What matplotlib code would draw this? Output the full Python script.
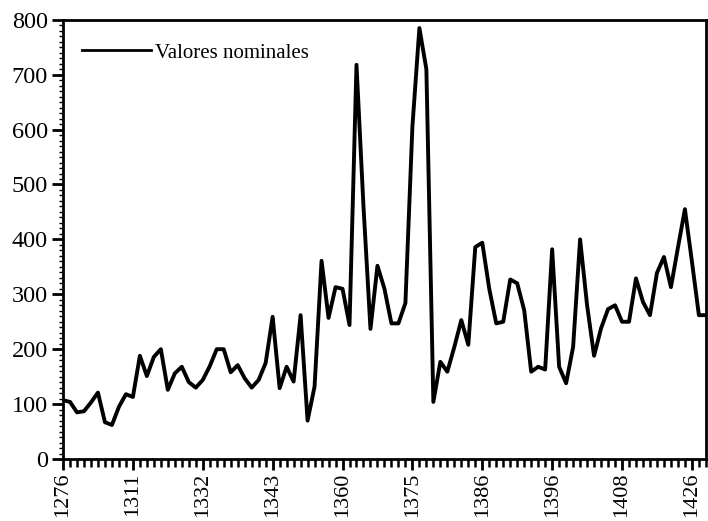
import numpy as np
import matplotlib
matplotlib.use("Agg")
import matplotlib.pyplot as plt
from matplotlib.ticker import MultipleLocator

# valores nominales, one point per observation (index on x axis)
valores = [107, 104, 85, 87, 103, 121, 67, 62, 95, 118,
           113, 188, 151, 186, 200, 126, 156, 168, 140, 130,
           144, 169, 200, 200, 158, 171, 147, 130, 144, 175,
           259, 129, 168, 141, 262, 70, 132, 361, 257, 313,
           310, 244, 718, 460, 237, 352, 310, 247, 247, 284,
           605, 785, 710, 104, 177, 159, 204, 253, 208, 386,
           394, 310, 247, 250, 327, 320, 271, 159, 168, 163,
           382, 168, 138, 204, 400, 280, 188, 238, 273, 280,
           250, 250, 329, 286, 262, 339, 368, 313, 385, 455,
           360, 262, 262]
tick_pos = [0, 10, 20, 30, 40, 50, 60, 70, 80, 90]
tick_labels = ["1276", "1311", "1332", "1343", "1360",
               "1375", "1386", "1396", "1408", "1426"]

plt.rcParams['font.family'] = ['Liberation Serif', 'DejaVu Serif']

fig = plt.figure(figsize=(7.08, 5.21), dpi=100)
ax = fig.add_axes([0.089, 0.119, 0.908, 0.843])

x = np.arange(len(valores))
ax.plot(x, valores, color='black', lw=2.8, label="Valores nominales")

ax.set_xlim(0, len(valores) - 1)
ax.set_ylim(0, 800)
ax.set_xticks(tick_pos)
ax.set_xticklabels(tick_labels, rotation=90)
ax.xaxis.set_minor_locator(MultipleLocator(1))
ax.yaxis.set_major_locator(MultipleLocator(100))
ax.yaxis.set_minor_locator(MultipleLocator(10))

ax.tick_params(axis='both', which='major', width=2, direction='out')
ax.tick_params(axis='x', which='major', length=8, pad=2, labelsize=16)
ax.tick_params(axis='y', which='major', length=8, pad=3, labelsize=17.5)
ax.tick_params(axis='x', which='minor', length=6, width=1.8)
ax.tick_params(axis='y', which='minor', length=3, width=1)
for s in ax.spines.values():
    s.set_linewidth(2)

leg = ax.legend(loc='upper left', frameon=False, fontsize=15, handlelength=3.3,
                handletextpad=0.2, bbox_to_anchor=(0.0, 0.99))
leg.get_lines()[0].set_linewidth(2)

fig.savefig("out.png", dpi=100)
